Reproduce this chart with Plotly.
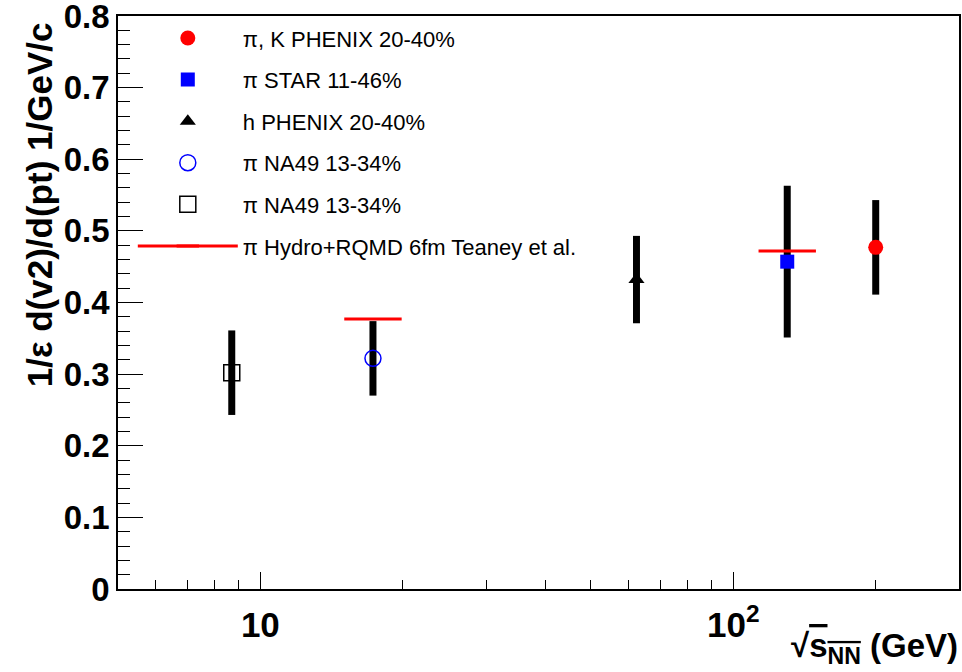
import plotly.graph_objects as go

# ---- data ----
phenix_x = [200.0]
phenix_y = [0.477]
phenix_err = [0.066]

star_x = [130.0]
star_y = [0.457]
star_err = [0.106]

hphenix_x = [62.4]
hphenix_y = [0.432]
hphenix_err = [0.061]

na49c_x = [17.3]
na49c_y = [0.322]
na49c_err = [0.052]

na49s_x = [8.7]
na49s_y = [0.302]
na49s_err = [0.059]

# theory values (drawn as short horizontal bars); None separates the two points
hydro_x = [17.3, None, 130.0]
hydro_y = [0.377, None, 0.472]

labels = [
    "π, K PHENIX 20-40%",
    "π STAR 11-46%",
    "h PHENIX 20-40%",
    "π NA49 13-34%",
    "π NA49 13-34%",
    "π Hydro+RQMD 6fm Teaney et al.",
]

x_major_vals = [10, 100]
x_major_text = ["10", "10<sup>2</sup>"]
x_minor_vals = [6, 7, 8, 9, 20, 30, 40, 50, 60, 70, 80, 90, 200]

y_tick_vals = [0, 0.1, 0.2, 0.3, 0.4, 0.5, 0.6, 0.7, 0.8]
y_tick_text = ["0", "0.1", "0.2", "0.3", "0.4", "0.5", "0.6", "0.7", "0.8"]

FONT = "Liberation Sans, Arial, Helvetica, sans-serif"

def err(e):
    return dict(type="data", array=e, visible=True, color="black", thickness=7, width=0)

fig = go.Figure()
fig.add_trace(go.Scatter(x=phenix_x, y=phenix_y, mode="markers", name=labels[0], legendgroup="g0",
                         error_y=err(phenix_err),
                         marker=dict(symbol="circle", size=15, color="red", line=dict(width=0))))
fig.add_trace(go.Scatter(x=star_x, y=star_y, mode="markers", name=labels[1], legendgroup="g1",
                         error_y=err(star_err),
                         marker=dict(symbol="square", size=14, color="blue", line=dict(width=0))))
fig.add_trace(go.Scatter(x=hphenix_x, y=hphenix_y, mode="markers", name=labels[2], legendgroup="g2",
                         error_y=err(hphenix_err),
                         marker=dict(symbol="triangle-up", size=14, color="black", line=dict(width=0))))
fig.add_trace(go.Scatter(x=na49c_x, y=na49c_y, mode="markers", name=labels[3], legendgroup="g3",
                         error_y=err(na49c_err),
                         marker=dict(symbol="circle-open", size=16, color="blue", line=dict(width=1.5, color="blue"))))
fig.add_trace(go.Scatter(x=na49s_x, y=na49s_y, mode="markers", name=labels[4], legendgroup="g4",
                         error_y=err(na49s_err),
                         marker=dict(symbol="square-open", size=16, color="black", line=dict(width=1.5, color="black"))))
fig.add_trace(go.Scatter(x=hydro_x, y=hydro_y, mode="lines+markers", name=labels[5], legendgroup="g5",
                         connectgaps=False,
                         line=dict(color="red", width=3),
                         marker=dict(symbol="line-ew", size=41, color="red", line=dict(width=3, color="red"))))

fig.update_layout(
    width=962, height=672,
    margin=dict(l=118, r=3, t=16, b=83, autoexpand=False),
    paper_bgcolor="white", plot_bgcolor="white",
    font=dict(family=FONT, color="black"),
    showlegend=True,
    legend=dict(
        x=0.0176, y=0.998, xanchor="left", yanchor="top",
        bgcolor="rgba(0,0,0,0)", borderwidth=0,
        font=dict(family=FONT, size=22, color="black"),
        tracegroupgap=10, itemwidth=100, traceorder="grouped",
    ),
)

fig.update_xaxes(
    type="log", range=[0.699, 2.4771], automargin=False,
    showline=True, linecolor="black", linewidth=1.5, mirror=True,
    showgrid=False, zeroline=False,
    ticks="inside", ticklen=17, tickwidth=1.2, tickcolor="black",
    tickmode="array", tickvals=x_major_vals, ticktext=x_major_text,
    tickfont=dict(family=FONT, size=35, color="black", weight="bold"),
    ticklabelstandoff=4, ticklabeloverflow="allow",
    minor=dict(ticks="inside", ticklen=9, tickwidth=1.2, tickcolor="black",
               tickmode="array", tickvals=x_minor_vals, showgrid=False),
)
fig.update_yaxes(
    range=[0, 0.8], automargin=False,
    showline=True, linecolor="black", linewidth=1.5, mirror=True,
    showgrid=False, zeroline=False,
    ticks="inside", ticklen=25, tickwidth=1.2, tickcolor="black",
    tickmode="array", tickvals=y_tick_vals, ticktext=y_tick_text,
    tickfont=dict(family=FONT, size=33, color="black", weight="bold"),
    ticklabelstandoff=0, ticklabeloverflow="allow",
    minor=dict(ticks="inside", ticklen=12, tickwidth=1.2, tickcolor="black",
               tickmode="linear", tick0=0, dtick=0.02, showgrid=False),
)

fig.add_annotation(
    text="1/ε d(v2)/d(pt) 1/GeV/c", textangle=-90,
    xref="paper", yref="paper", x=-0.093, y=0.993,
    xanchor="center", yanchor="top", showarrow=False,
    font=dict(family=FONT, size=35, color="black", weight="bold"),
)
fig.add_annotation(
    text="√<span style='text-decoration:overline'>s<sub>NN</sub></span> (GeV)",
    xref="paper", yref="paper", x=1.001, y=-0.062,
    xanchor="right", yanchor="top", showarrow=False,
    font=dict(family=FONT, size=33, color="black", weight="bold"),
)

fig.write_html(
    "out.html",
    config={"displayModeBar": False},
    post_script="document.body.style.margin='0';document.body.style.overflow='hidden';",
)
